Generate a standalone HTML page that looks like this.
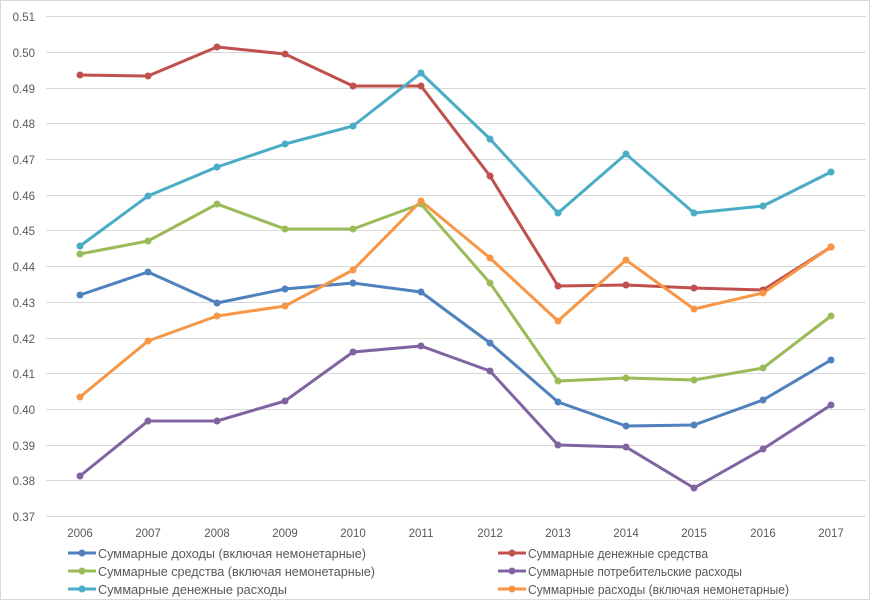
<!DOCTYPE html>
<html><head><meta charset="utf-8"><style>
html,body{margin:0;padding:0;background:#fff;}
svg{display:block;font-family:"Liberation Sans",sans-serif;}
</style></head><body>
<svg width="871" height="602" xmlns="http://www.w3.org/2000/svg">
<rect x="0.5" y="0.5" width="869" height="599" fill="#fff" stroke="#d9d9d9"/>
<g stroke="#d9d9d9" stroke-width="1">
<line x1="46" x2="866" y1="16.5" y2="16.5"/><line x1="46" x2="866" y1="52.5" y2="52.5"/><line x1="46" x2="866" y1="88.5" y2="88.5"/><line x1="46" x2="866" y1="123.5" y2="123.5"/><line x1="46" x2="866" y1="159.5" y2="159.5"/><line x1="46" x2="866" y1="195.5" y2="195.5"/><line x1="46" x2="866" y1="230.5" y2="230.5"/><line x1="46" x2="866" y1="266.5" y2="266.5"/><line x1="46" x2="866" y1="302.5" y2="302.5"/><line x1="46" x2="866" y1="338.5" y2="338.5"/><line x1="46" x2="866" y1="373.5" y2="373.5"/><line x1="46" x2="866" y1="409.5" y2="409.5"/><line x1="46" x2="866" y1="445.5" y2="445.5"/><line x1="46" x2="866" y1="480.5" y2="480.5"/><line x1="46" x2="866" y1="516.5" y2="516.5"/>
</g>
<g font-size="11.5" fill="#595959" text-anchor="end">
<text x="35" y="21">0.51</text><text x="35" y="57">0.50</text><text x="35" y="93">0.49</text><text x="35" y="128">0.48</text><text x="35" y="164">0.47</text><text x="35" y="200">0.46</text><text x="35" y="235">0.45</text><text x="35" y="271">0.44</text><text x="35" y="307">0.43</text><text x="35" y="343">0.42</text><text x="35" y="378">0.41</text><text x="35" y="414">0.40</text><text x="35" y="450">0.39</text><text x="35" y="485">0.38</text><text x="35" y="521">0.37</text>
</g>
<g font-size="11.5" fill="#595959" text-anchor="middle">
<text x="80" y="537">2006</text><text x="148" y="537">2007</text><text x="217" y="537">2008</text><text x="285" y="537">2009</text><text x="353" y="537">2010</text><text x="421" y="537">2011</text><text x="490" y="537">2012</text><text x="558" y="537">2013</text><text x="626" y="537">2014</text><text x="694" y="537">2015</text><text x="763" y="537">2016</text><text x="831" y="537">2017</text>
</g>
<g fill="none" stroke-width="3" stroke-linejoin="round">
<polyline stroke="#4F81BD" points="80,295 148,272 217,303 285,289 353,283 421,292 490,343 558,402 626,426 694,425 763,400 831,360"/>
<polyline stroke="#C0504D" points="80,75 148,76 217,47 285,54 353,86 421,86 490,176 558,286 626,285 694,288 763,290 831,247"/>
<polyline stroke="#9BBB59" points="80,254 148,241 217,204 285,229 353,229 421,204 490,283 558,381 626,378 694,380 763,368 831,316"/>
<polyline stroke="#8064A2" points="80,476 148,421 217,421 285,401 353,352 421,346 490,371 558,445 626,447 694,488 763,449 831,405"/>
<polyline stroke="#4BACC6" points="80,246 148,196 217,167 285,144 353,126 421,73 490,139 558,213 626,154 694,213 763,206 831,172"/>
<polyline stroke="#F79646" points="80,397 148,341 217,316 285,306 353,270 421,201 490,258 558,321 626,260 694,309 763,293 831,247"/>
</g>
<g id="m">
<g fill="#4F81BD"><circle cx="80" cy="295" r="3.5"/><circle cx="148" cy="272" r="3.5"/><circle cx="217" cy="303" r="3.5"/><circle cx="285" cy="289" r="3.5"/><circle cx="353" cy="283" r="3.5"/><circle cx="421" cy="292" r="3.5"/><circle cx="490" cy="343" r="3.5"/><circle cx="558" cy="402" r="3.5"/><circle cx="626" cy="426" r="3.5"/><circle cx="694" cy="425" r="3.5"/><circle cx="763" cy="400" r="3.5"/><circle cx="831" cy="360" r="3.5"/></g>
<g fill="#C0504D"><circle cx="80" cy="75" r="3.5"/><circle cx="148" cy="76" r="3.5"/><circle cx="217" cy="47" r="3.5"/><circle cx="285" cy="54" r="3.5"/><circle cx="353" cy="86" r="3.5"/><circle cx="421" cy="86" r="3.5"/><circle cx="490" cy="176" r="3.5"/><circle cx="558" cy="286" r="3.5"/><circle cx="626" cy="285" r="3.5"/><circle cx="694" cy="288" r="3.5"/><circle cx="763" cy="290" r="3.5"/><circle cx="831" cy="247" r="3.5"/></g>
<g fill="#9BBB59"><circle cx="80" cy="254" r="3.5"/><circle cx="148" cy="241" r="3.5"/><circle cx="217" cy="204" r="3.5"/><circle cx="285" cy="229" r="3.5"/><circle cx="353" cy="229" r="3.5"/><circle cx="421" cy="204" r="3.5"/><circle cx="490" cy="283" r="3.5"/><circle cx="558" cy="381" r="3.5"/><circle cx="626" cy="378" r="3.5"/><circle cx="694" cy="380" r="3.5"/><circle cx="763" cy="368" r="3.5"/><circle cx="831" cy="316" r="3.5"/></g>
<g fill="#8064A2"><circle cx="80" cy="476" r="3.5"/><circle cx="148" cy="421" r="3.5"/><circle cx="217" cy="421" r="3.5"/><circle cx="285" cy="401" r="3.5"/><circle cx="353" cy="352" r="3.5"/><circle cx="421" cy="346" r="3.5"/><circle cx="490" cy="371" r="3.5"/><circle cx="558" cy="445" r="3.5"/><circle cx="626" cy="447" r="3.5"/><circle cx="694" cy="488" r="3.5"/><circle cx="763" cy="449" r="3.5"/><circle cx="831" cy="405" r="3.5"/></g>
<g fill="#4BACC6"><circle cx="80" cy="246" r="3.5"/><circle cx="148" cy="196" r="3.5"/><circle cx="217" cy="167" r="3.5"/><circle cx="285" cy="144" r="3.5"/><circle cx="353" cy="126" r="3.5"/><circle cx="421" cy="73" r="3.5"/><circle cx="490" cy="139" r="3.5"/><circle cx="558" cy="213" r="3.5"/><circle cx="626" cy="154" r="3.5"/><circle cx="694" cy="213" r="3.5"/><circle cx="763" cy="206" r="3.5"/><circle cx="831" cy="172" r="3.5"/></g>
<g fill="#F79646"><circle cx="80" cy="397" r="3.5"/><circle cx="148" cy="341" r="3.5"/><circle cx="217" cy="316" r="3.5"/><circle cx="285" cy="306" r="3.5"/><circle cx="353" cy="270" r="3.5"/><circle cx="421" cy="201" r="3.5"/><circle cx="490" cy="258" r="3.5"/><circle cx="558" cy="321" r="3.5"/><circle cx="626" cy="260" r="3.5"/><circle cx="694" cy="309" r="3.5"/><circle cx="763" cy="293" r="3.5"/><circle cx="831" cy="247" r="3.5"/></g>
</g>
<g stroke-width="3">
<line x1="68" x2="96" y1="553" y2="553" stroke="#4F81BD"/><circle cx="82" cy="553" r="3.5" fill="#4F81BD"/>
<line x1="68" x2="96" y1="571" y2="571" stroke="#9BBB59"/><circle cx="82" cy="571" r="3.5" fill="#9BBB59"/>
<line x1="68" x2="96" y1="589" y2="589" stroke="#4BACC6"/><circle cx="82" cy="589" r="3.5" fill="#4BACC6"/>
<line x1="498" x2="526" y1="553" y2="553" stroke="#C0504D"/><circle cx="512" cy="553" r="3.5" fill="#C0504D"/>
<line x1="498" x2="526" y1="571" y2="571" stroke="#8064A2"/><circle cx="512" cy="571" r="3.5" fill="#8064A2"/>
<line x1="498" x2="526" y1="589" y2="589" stroke="#F79646"/><circle cx="512" cy="589" r="3.5" fill="#F79646"/>
</g>
<g font-size="12.5" fill="#595959">
<text x="98" y="558" textLength="268" lengthAdjust="spacingAndGlyphs">Суммарные  доходы (включая немонетарные)</text>
<text x="98" y="576" textLength="277" lengthAdjust="spacingAndGlyphs">Суммарные  средства (включая немонетарные)</text>
<text x="98" y="594" textLength="189" lengthAdjust="spacingAndGlyphs">Суммарные  денежные  расходы</text>
<text x="528" y="558" textLength="180" lengthAdjust="spacingAndGlyphs">Суммарные  денежные средства</text>
<text x="528" y="576" textLength="214" lengthAdjust="spacingAndGlyphs">Суммарные  потребительские расходы</text>
<text x="528" y="594" textLength="261" lengthAdjust="spacingAndGlyphs">Суммарные  расходы (включая немонетарные)</text>
</g>
</svg>
</body></html>
